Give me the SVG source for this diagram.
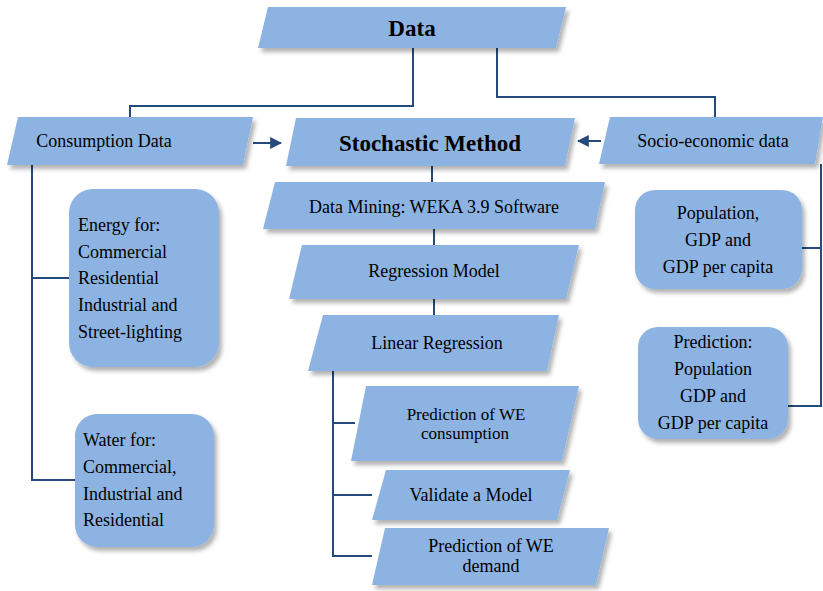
<svg xmlns="http://www.w3.org/2000/svg" width="823" height="591" viewBox="0 0 823 591">
<defs>
<filter id="sh" x="-10%" y="-10%" width="125%" height="130%">
<feDropShadow dx="3" dy="4" stdDeviation="2" flood-color="#000" flood-opacity="0.3"/>
</filter>
<marker id="ah" viewBox="0 0 10 10" refX="9" refY="5" markerWidth="6" markerHeight="7" orient="auto" markerUnits="strokeWidth">
<path d="M0,0 L10,5 L0,10 Z" fill="#24497A"/>
</marker>
<style>
.b{fill:#8DB3E2;filter:url(#sh)}
.t{font-family:"Liberation Serif","Times New Roman",serif;font-size:18px;fill:#000}
.c{text-anchor:middle}
.s{font-size:17px}
.bold{font-weight:bold;font-size:23px}
.ln{fill:none;stroke:#24497A;stroke-width:2}
</style>
</defs>
<rect width="823" height="591" fill="#fff"/>
<g id="connectors">
<path class="ln" d="M413,48 V106 H130 V118"/>
<path class="ln" d="M497,48 V97 H715 V118"/>
<path class="ln" d="M253,143 H281" marker-end="url(#ah)"/>
<path class="ln" d="M601,141 H578" marker-end="url(#ah)"/>
<path class="ln" d="M32,165 V480 H75"/>
<path class="ln" d="M32,278 H69"/>
<path class="ln" d="M432,166 V182"/>
<path class="ln" d="M434,229 V245"/>
<path class="ln" d="M434,299 V316"/>
<path class="ln" d="M333,371 V556 H372"/>
<path class="ln" d="M333,423 H355"/>
<path class="ln" d="M333,495 H372"/>
<path class="ln" d="M821,164 V406 H788"/>
<path class="ln" d="M802,248 H821"/>
</g>
<g id="data">
<polygon class="b" points="268,7 566,7 556,48 258,48"/>
<text class="t c bold" x="412" y="36">Data</text>
</g>
<g id="consumption">
<polygon class="b" points="18,117 253,117 243,165 7,165"/>
<text class="t c" x="104" y="147">Consumption Data</text>
</g>
<g id="stochastic">
<polygon class="b" points="296,118 575,118 565,166 286,166"/>
<text class="t c bold" x="430" y="151">Stochastic Method</text>
</g>
<g id="socio">
<polygon class="b" points="610,117 823,117 815,164 599,164"/>
<text class="t c" x="713" y="147">Socio-economic data</text>
</g>
<g id="energy">
<rect class="b" x="69" y="189" width="150" height="178" rx="24"/>
<text class="t" x="78" y="231">Energy for:</text>
<text class="t" x="78" y="258">Commercial</text>
<text class="t" x="78" y="284">Residential</text>
<text class="t" x="78" y="311">Industrial and</text>
<text class="t" x="78" y="338"> Street-lighting</text>
</g>
<g id="water">
<rect class="b" x="75" y="414" width="139" height="133" rx="22"/>
<text class="t" x="83" y="446">Water for:</text>
<text class="t" x="83" y="473">Commercial,</text>
<text class="t" x="83" y="500">Industrial  and</text>
<text class="t" x="83" y="526">Residential</text>
</g>
<g id="datamining">
<polygon class="b" points="275,182 605,182 595,229 263,229"/>
<text class="t c" x="434" y="213">Data Mining:  WEKA 3.9 Software</text>
</g>
<g id="regression">
<polygon class="b" points="302,245 579,245 566,299 289,299"/>
<text class="t c" x="434" y="277">Regression Model</text>
</g>
<g id="linear">
<polygon class="b" points="323,315 559,315 547,371 308,371"/>
<text class="t c" x="437" y="349">Linear Regression</text>
</g>
<g id="predcons">
<polygon class="b" points="366,386 579,386 562,461 351,461"/>
<text class="t c s" x="466" y="420">Prediction of  WE</text>
<text class="t c s" x="465" y="439">consumption</text>
</g>
<g id="validate">
<polygon class="b" points="386,470 570,470 557,520 372,520"/>
<text class="t c" x="471" y="501">Validate a Model</text>
</g>
<g id="preddemand">
<polygon class="b" points="385,528 609,528 596,585 372,585"/>
<text class="t c" x="491" y="552">Prediction of WE</text>
<text class="t c" x="491" y="572">demand</text>
</g>
<g id="population">
<rect class="b" x="635" y="190" width="167" height="99" rx="20"/>
<text class="t c" x="718" y="219">Population,</text>
<text class="t c" x="718" y="246">GDP and</text>
<text class="t c" x="718" y="273">GDP per capita</text>
</g>
<g id="prediction">
<rect class="b" x="638" y="327" width="150" height="112" rx="20"/>
<text class="t c" x="713" y="348">Prediction:</text>
<text class="t c" x="713" y="375">Population</text>
<text class="t c" x="713" y="402">GDP and</text>
<text class="t c" x="713" y="429">GDP per capita</text>
</g>
</svg>
